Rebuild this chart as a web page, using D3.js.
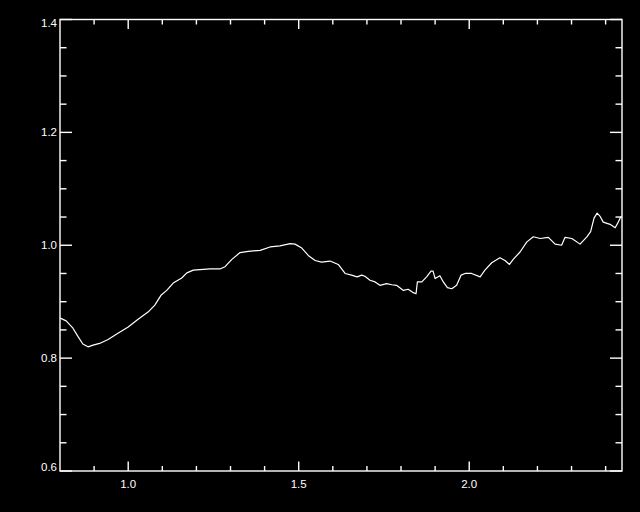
<!DOCTYPE html>
<html>
<head>
<meta charset="utf-8">
<script src="https://cdn.jsdelivr.net/npm/d3@7"></script>
<style>
html,body{margin:0;padding:0;background:#000;}
svg{display:block;}
</style>
</head>
<body>
<svg id="chart" width="640" height="512"></svg>
<script>
// Data
const xValues = [0.800,0.804,0.818,0.838,0.853,0.867,0.882,0.897,0.916,0.941,0.970,1.000,1.029,1.059,1.078,1.097,1.113,1.132,1.157,1.172,1.191,1.240,1.269,1.284,1.304,1.328,1.352,1.387,1.416,1.445,1.475,1.489,1.509,1.528,1.548,1.567,1.592,1.616,1.636,1.655,1.671,1.685,1.694,1.709,1.724,1.738,1.758,1.773,1.787,1.807,1.821,1.836,1.844,1.848,1.861,1.875,1.888,1.894,1.900,1.914,1.924,1.936,1.949,1.963,1.976,1.988,2.007,2.032,2.046,2.066,2.090,2.105,2.118,2.129,2.149,2.169,2.188,2.208,2.232,2.252,2.271,2.281,2.301,2.325,2.345,2.356,2.366,2.375,2.384,2.393,2.413,2.428,2.437,2.445];
const yValues = [0.871,0.870,0.866,0.853,0.838,0.825,0.820,0.823,0.826,0.833,0.844,0.855,0.869,0.882,0.894,0.912,0.920,0.933,0.942,0.951,0.956,0.958,0.958,0.962,0.975,0.987,0.989,0.991,0.997,0.999,1.003,1.002,0.995,0.982,0.973,0.970,0.972,0.966,0.950,0.947,0.944,0.947,0.945,0.938,0.935,0.929,0.932,0.930,0.929,0.920,0.922,0.916,0.914,0.935,0.935,0.944,0.954,0.954,0.941,0.946,0.935,0.925,0.923,0.929,0.947,0.950,0.950,0.944,0.956,0.969,0.978,0.973,0.966,0.975,0.988,1.006,1.015,1.012,1.014,1.002,1.000,1.014,1.012,1.002,1.015,1.024,1.048,1.057,1.051,1.041,1.037,1.031,1.041,1.051];
const xDomain = [0.8, 2.448];
const yDomain = [0.6, 1.4];
const xMajorTicks = [1.0, 1.5, 2.0];
const xTickLabels = ["1.0", "1.5", "2.0"];
const xMinorTicks = [0.9,1.1,1.2,1.3,1.4,1.6,1.7,1.8,1.9,2.1,2.2,2.3,2.4];
const yMajorTicks = [0.6, 0.8, 1.0, 1.2, 1.4];
const yTickLabels = ["0.6", "0.8", "1.0", "1.2", "1.4"];
const yMinorTicks = [0.65,0.7,0.75,0.85,0.9,0.95,1.05,1.1,1.15,1.25,1.3,1.35];

const L = 60, R = 622, T = 19.5, B = 471;
const svg = d3.select("#chart");
svg.append("rect").attr("width",640).attr("height",512).attr("fill","#000");

const x = d3.scaleLinear().domain(xDomain).range([L, R]);
const y = d3.scaleLinear().domain(yDomain).range([B, T]);

const g = svg.append("g").attr("stroke","#fff").attr("stroke-width",1.4);

// frame
g.append("rect").attr("x",L).attr("y",T).attr("width",R-L).attr("height",B-T).attr("fill","none");

// x ticks (bottom and top, inward)
const xt = g.append("g");
xMajorTicks.forEach(v=>{
  xt.append("line").attr("x1",x(v)).attr("x2",x(v)).attr("y1",B).attr("y2",B-9.5);
  xt.append("line").attr("x1",x(v)).attr("x2",x(v)).attr("y1",T).attr("y2",T+9.5);
});
xMinorTicks.forEach(v=>{
  xt.append("line").attr("x1",x(v)).attr("x2",x(v)).attr("y1",B).attr("y2",B-5);
  xt.append("line").attr("x1",x(v)).attr("x2",x(v)).attr("y1",T).attr("y2",T+5);
});
// y ticks (left and right, inward)
yMajorTicks.forEach(v=>{
  xt.append("line").attr("x1",L).attr("x2",L+12).attr("y1",y(v)).attr("y2",y(v));
  xt.append("line").attr("x1",R).attr("x2",R-12).attr("y1",y(v)).attr("y2",y(v));
});
yMinorTicks.forEach(v=>{
  xt.append("line").attr("x1",L).attr("x2",L+6.5).attr("y1",y(v)).attr("y2",y(v));
  xt.append("line").attr("x1",R).attr("x2",R-6.5).attr("y1",y(v)).attr("y2",y(v));
});

// labels
const font = "'Liberation Sans', Arial, sans-serif";
svg.append("g").selectAll("text").data(xMajorTicks).join("text")
  .attr("x",d=>x(d)).attr("y",487.5)
  .attr("text-anchor","middle").attr("fill","#fff")
  .attr("font-family",font).attr("font-size","11.5px")
  .text((d,i)=>xTickLabels[i]);

svg.append("g").selectAll("text").data(yMajorTicks).join("text")
  .attr("x",57).attr("y",d=>{
    let cy = y(d) + 4;
    if (cy < T + 7.5) cy = T + 7.5;
    if (cy > B) cy = B;
    return cy;
  })
  .attr("text-anchor","end").attr("fill","#fff")
  .attr("font-family",font).attr("font-size","11.5px")
  .text((d,i)=>yTickLabels[i]);

// data line
const pts = xValues.map((v,i)=>[v, yValues[i]]);
const line = d3.line().x(d=>x(d[0])).y(d=>y(d[1]));
svg.append("path").datum(pts).attr("d",line)
  .attr("fill","none").attr("stroke","#fff").attr("stroke-width",1.2)
  .attr("stroke-linejoin","round");
</script>
</body>
</html>
